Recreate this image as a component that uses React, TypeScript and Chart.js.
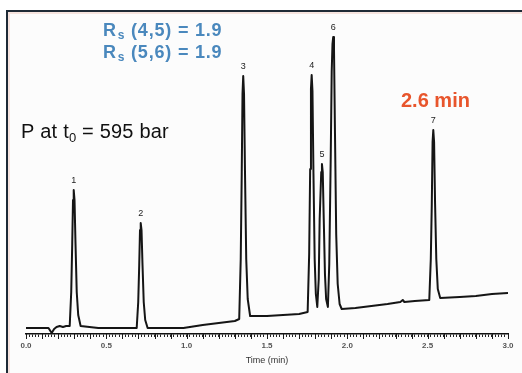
import React, { useEffect, useRef } from "react";
import { Chart, registerables } from "chart.js";

Chart.register(...registerables);

// Chromatogram trace: time (min) and detector signal (arbitrary units)
const traceTimes = [
  0.0, 0.1, 0.14, 0.16, 0.175, 0.19, 0.21, 0.23, 0.25, 0.265,
  0.272, 0.2815, 0.2877, 0.2926, 0.297, 0.302, 0.3082, 0.3157, 0.325, 0.34,
  0.45, 0.55, 0.65, 0.689,
  0.6985, 0.7047, 0.7096, 0.714, 0.719, 0.7252, 0.7327, 0.742, 0.757,
  0.9, 0.98, 1.1, 1.2, 1.3, 1.327,
  1.3365, 1.3427, 1.3476, 1.352, 1.357, 1.3632, 1.3707, 1.38, 1.395,
  1.5, 1.6, 1.7, 1.753,
  1.7625, 1.7687, 1.7736, 1.778, 1.783, 1.7892, 1.7967, 1.804, 1.813,
  1.822, 1.8278, 1.8376, 1.842, 1.847, 1.8532, 1.8607, 1.868, 1.879,
  1.8875, 1.8965, 1.9027, 1.9076, 1.912, 1.917, 1.9232, 1.9307, 1.94, 1.952, 1.965,
  2.05, 2.15, 2.25, 2.33, 2.345, 2.355, 2.42, 2.51,
  2.5195, 2.5257, 2.5306, 2.535, 2.54, 2.5462, 2.5537, 2.563, 2.578,
  2.7, 2.8, 2.9, 3.0,
];
const traceSignal = [
  6, 6, 6, 1, 5, 7, 8, 7, 8, 8,
  8, 42, 90, 134, 144, 134, 90, 42, 19, 8,
  6, 6, 6, 6,
  32, 69, 104, 111, 104, 69, 32, 14, 6,
  6, 6, 9, 11, 13, 15,
  75, 160, 240, 258, 240, 160, 75, 35, 18,
  18, 19, 20, 22,
  80, 165, 245, 259, 243, 160, 75, 40, 27,
  55, 115, 162, 170, 162, 115, 60, 35, 27,
  70, 175, 262, 290, 297, 285, 200, 100, 50, 30, 25,
  26, 28, 30, 32, 34, 32, 33, 34,
  75, 130, 192, 204, 192, 130, 75, 45, 36,
  37, 38, 40, 41,
];

// Peak annotations
const peakLabels = ["1", "2", "3", "4", "5", "6", "7"];
const peakTimes = [0.297, 0.714, 1.352, 1.778, 1.842, 1.912, 2.535];
const peakHeights = [144, 111, 258, 259, 170, 297, 204];

// Axis
const xMin = 0;
const xMax = 3;
const xLabelStep = 0.5;
const xTitle = "Time (min)";

// Text annotations
const rsLines = [" (4,5) = 1.9", " (5,6) = 1.9"];
const pressureText = { before: "P at t", sub: "0", after: " = 595 bar" };
const runTimeText = "2.6 min";

const FONT = "'Liberation Sans', Arial, Helvetica, sans-serif";

const annotationPlugin = {
  id: "annotations",
  afterDraw(chart: any) {
    const ctx = chart.ctx as CanvasRenderingContext2D;
    const xs = chart.scales.x;
    const ys = chart.scales.y;
    ctx.save();

    // longer ticks every 0.1 min
    ctx.strokeStyle = "#1a1a1a";
    ctx.lineWidth = 1;
    const bottom = chart.chartArea.bottom;
    for (let i = 0; i <= 30; i++) {
      const px = Math.round(xs.getPixelForValue(i / 10)) + 0.5;
      ctx.beginPath();
      ctx.moveTo(px, bottom);
      ctx.lineTo(px, bottom + 5);
      ctx.stroke();
    }

    // peak numbers
    ctx.fillStyle = "#222";
    ctx.font = `9px ${FONT}`;
    ctx.textAlign = "center";
    ctx.textBaseline = "middle";
    peakLabels.forEach((lab, i) => {
      const px = xs.getPixelForValue(peakTimes[i]);
      const py = ys.getPixelForValue(peakHeights[i]);
      ctx.fillText(lab, px, py - 9);
    });

    // Rs lines
    ctx.textAlign = "left";
    ctx.textBaseline = "alphabetic";
    ctx.fillStyle = "#4a88bd";
    const rsBase = [36, 58];
    rsLines.forEach((pair, i) => {
      let x = 103;
      const y = rsBase[i];
      (ctx as any).letterSpacing = "0.8px";
      ctx.font = `bold 18px ${FONT}`;
      ctx.fillText("R", x, y);
      x += ctx.measureText("R").width;
      ctx.font = `bold 12px ${FONT}`;
      ctx.fillText("s", x + 1, y + 3);
      x += ctx.measureText("s").width + 1;
      ctx.font = `bold 18px ${FONT}`;
      ctx.fillText(pair, x, y);
    });
    (ctx as any).letterSpacing = "0px";

    // Pressure text
    ctx.fillStyle = "#111";
    let x = 21;
    const yP = 138;
    (ctx as any).letterSpacing = "0.2px";
    ctx.font = `20px ${FONT}`;
    ctx.fillText(pressureText.before, x, yP);
    x += ctx.measureText(pressureText.before).width;
    ctx.font = `13px ${FONT}`;
    ctx.fillText(pressureText.sub, x, yP + 4);
    x += ctx.measureText(pressureText.sub).width;
    ctx.font = `20px ${FONT}`;
    ctx.fillText(pressureText.after, x, yP);
    (ctx as any).letterSpacing = "0px";

    // run time
    ctx.fillStyle = "#e8552c";
    ctx.font = `bold 20px ${FONT}`;
    ctx.fillText(runTimeText, 401, 107);

    ctx.restore();
  },
};

export default function App() {
  const ref = useRef<HTMLCanvasElement | null>(null);

  useEffect(() => {
    if (!ref.current) return;
    const data = traceTimes.map((t, i) => ({ x: t, y: traceSignal[i] }));
    const chart = new Chart(ref.current, {
      type: "line",
      data: {
        datasets: [
          {
            data,
            borderColor: "#151515",
            borderWidth: 2,
            pointRadius: 0,
            tension: 0,
            borderJoinStyle: "round",
            fill: false,
          },
        ],
      },
      options: {
        animation: false,
        responsive: false,
        devicePixelRatio: 1,
        layout: { padding: { left: 26, right: 14, top: 4, bottom: 0 } },
        plugins: {
          legend: { display: false },
          tooltip: { enabled: false },
        },
        scales: {
          x: {
            type: "linear",
            min: xMin,
            max: xMax,
            afterFit: (s: any) => {
              s.height = 39;
            },
            border: { display: true, color: "#111", width: 1.5 },
            grid: {
              display: true,
              drawOnChartArea: false,
              drawTicks: true,
              tickLength: 3,
              tickColor: "#222",
              tickWidth: 1,
            },
            ticks: {
              stepSize: 0.02,
              autoSkip: false,
              maxRotation: 0,
              padding: 4,
              color: "#555",
              font: { size: 8, weight: "bold", family: FONT },
              callback: (v: any) => {
                const n = Number(v);
                const r = n / xLabelStep;
                return Math.abs(r - Math.round(r)) < 1e-6 ? n.toFixed(1) : "";
              },
            },
            title: {
              display: true,
              text: xTitle,
              color: "#333",
              font: { size: 9, family: FONT },
              padding: { top: 1, bottom: 7 },
            },
          },
          y: {
            type: "linear",
            display: false,
            min: 0,
            max: 330,
          },
        },
      },
      plugins: [annotationPlugin],
    });
    return () => chart.destroy();
  }, []);

  return (
    <div
      style={{
        position: "fixed",
        left: 0,
        top: 0,
        width: 522,
        height: 373,
        overflow: "hidden",
        background: "#ffffff",
      }}
    >
      <div
        style={{
          position: "absolute",
          left: 6,
          top: 10,
          width: 540,
          height: 400,
          borderLeft: "2px solid #1e2a36",
          borderTop: "2px solid #1e2a36",
          background: "#fcfcfc",
          boxShadow: "inset 2px 2px 0 #f6e4df",
        }}
      />
      <canvas
        ref={ref}
        width={522}
        height={373}
        style={{ position: "absolute", left: 0, top: 0, width: 522, height: 373 }}
      />
    </div>
  );
}
